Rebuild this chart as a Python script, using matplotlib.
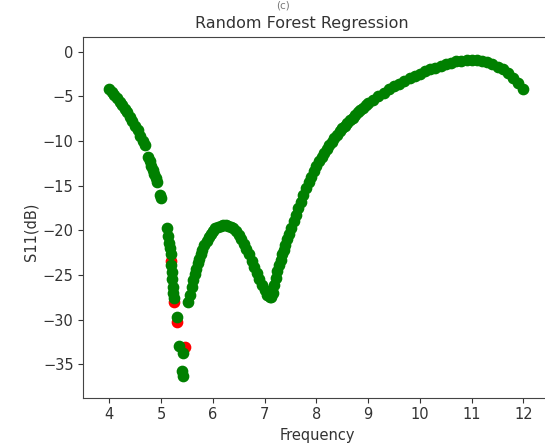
import matplotlib
matplotlib.use("Agg")
import matplotlib.pyplot as plt

title = "Random Forest Regression"
panel_label = "(c)"
xlabel = "Frequency"
ylabel = "S11(dB)"
xticks = [4, 5, 6, 7, 8, 9, 10, 11, 12]
yticks = [0, -5, -10, -15, -20, -25, -30, -35]

# predicted (green) samples
freq_pred = [4.00, 4.05, 4.10, 4.15, 4.20, 4.25, 4.30, 4.35, 4.40, 4.45, 4.50, 4.55, 4.60, 4.65, 4.69,
             4.75, 4.78, 4.81, 4.84, 4.87, 4.90, 4.93,
             4.99, 5.01,
             5.12, 5.14, 5.16, 5.18, 5.20,
             5.20, 5.21, 5.22, 5.23, 5.24, 5.25,
             5.31, 5.34, 5.43, 5.40, 5.42,
             5.53, 5.56, 5.59, 5.62, 5.65, 5.68, 5.71, 5.74, 5.77, 5.80, 5.84, 5.88, 5.92, 5.96,
             6.00, 6.05, 6.10, 6.15, 6.20, 6.25, 6.30, 6.35, 6.40, 6.45, 6.50, 6.55, 6.60, 6.65,
             6.70, 6.75, 6.80, 6.85, 6.90, 6.95, 7.00, 7.05, 7.10, 7.13, 7.16, 7.19, 7.22, 7.25,
             7.28, 7.31, 7.34, 7.37, 7.40, 7.44, 7.48, 7.52, 7.56, 7.60, 7.65, 7.70, 7.75, 7.80,
             7.85, 7.90, 7.95, 8.00, 8.05, 8.10, 8.15, 8.20, 8.25, 8.30, 8.35, 8.40, 8.45, 8.50,
             8.55, 8.60, 8.65, 8.70, 8.75, 8.80, 8.85, 8.90, 8.95, 9.00, 9.10, 9.20, 9.30, 9.40,
             9.50, 9.60, 9.70, 9.80, 9.90, 10.00, 10.10, 10.20, 10.30, 10.40, 10.50, 10.60, 10.70,
             10.80, 10.90, 11.00, 11.10, 11.20, 11.30, 11.40, 11.50, 11.60, 11.70, 11.80, 11.90, 12.00]
s11_pred = [-4.2, -4.5, -4.9, -5.2, -5.6, -6.0, -6.4, -6.8, -7.3, -7.8, -8.3, -8.8, -9.4, -10.0, -10.5,
            -11.8, -12.3, -12.8, -13.3, -13.7, -14.1, -14.6,
            -16.0, -16.4,
            -19.8, -20.6, -21.4, -22.0, -22.6,
            -23.9, -24.7, -25.5, -26.3, -27.0, -27.6,
            -29.7, -32.9, -33.7, -35.7, -36.3,
            -28.0, -27.2, -26.4, -25.6, -24.9, -24.3, -23.7, -23.2, -22.7, -22.2, -21.7, -21.2, -20.8, -20.4,
            -20.1, -19.8, -19.6, -19.5, -19.4, -19.4, -19.5, -19.6, -19.8, -20.1, -20.5, -21.0, -21.5, -22.1,
            -22.7, -23.4, -24.1, -24.8, -25.5, -26.1, -26.7, -27.2, -27.5, -27.5, -27.0, -26.1, -25.3, -24.6,
            -23.9, -23.3, -22.7, -22.2, -21.6, -21.0, -20.4, -19.7, -19.0, -18.3, -17.5, -16.8, -16.0, -15.3,
            -14.6, -14.0, -13.4, -12.8, -12.3, -11.8, -11.3, -10.9, -10.5, -10.1, -9.7, -9.3, -8.9, -8.6,
            -8.3, -8.0, -7.7, -7.4, -7.1, -6.8, -6.5, -6.3, -6.0, -5.8, -5.4, -5.0, -4.6, -4.2,
            -3.9, -3.6, -3.3, -3.0, -2.7, -2.5, -2.2, -2.0, -1.8, -1.6, -1.4, -1.3, -1.1,
            -1.0, -0.9, -0.9, -0.9, -1.0, -1.2, -1.4, -1.7, -2.0, -2.4, -2.9, -3.5, -4.2]

# actual (red) samples visible where they differ from the prediction
freq_true = [5.20, 5.25, 5.31, 5.47]
s11_true = [-23.4, -28.0, -30.3, -33.1]

fig = plt.figure(figsize=(5.45, 4.48), dpi=100)
ax = fig.add_axes([0.1528, 0.1123, 0.8600, 0.8044])

ax.scatter(freq_true, s11_true, color="red", s=55, zorder=2)
ax.scatter(freq_pred, s11_pred, color="green", s=55, zorder=3)

ax.set_xlim(3.5, 12.55)
ax.set_ylim(-38.74, 1.6)
ax.set_xticks(xticks)
ax.set_yticks(yticks)
ax.tick_params(labelsize=10.5, colors="#333333")
for sp in ax.spines.values():
    sp.set_color("#444444")
ax.spines["right"].set_visible(False)

ax.set_title(title, fontsize=11.5, color="#333333", x=0.466, pad=7)
ax.set_xlabel(xlabel, fontsize=10.5, color="#333333")
ax.set_ylabel(ylabel, fontsize=10.5, color="#333333")
ax.yaxis.set_label_coords(-0.095, 0.46)

fig.text(0.52, 1 - 1 / 448, panel_label, fontsize=7.5, color="#777777", ha="center", va="top")

fig.savefig("out.png", dpi=100)
